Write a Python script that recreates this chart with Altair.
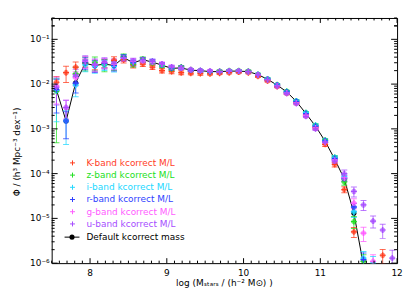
import altair as alt
import pandas as pd

# ---------------- data ----------------
log_mass = [7.5625, 7.6875, 7.8125, 7.9375, 8.0625, 8.1875, 8.3125, 8.4375, 8.5625,
            8.6875, 8.8125, 8.9375, 9.0625, 9.1875, 9.3125, 9.4375, 9.5625, 9.6875,
            9.8125, 9.9375, 10.0625, 10.1875, 10.3125, 10.4375, 10.5625, 10.6875,
            10.8125, 10.9375, 11.0625, 11.1875, 11.3125, 11.4375, 11.5625, 11.6875,
            11.8125, 11.9375]

phi_default = [7.4e-3, 1.5e-3, 1.07e-2, 2.9e-2, 2.6e-2, 2.8e-2, 2.6e-2, 3.9e-2, 3.0e-2,
               3.5e-2, 3.1e-2, 2.65e-2, 2.25e-2, 2.3e-2, 2.05e-2, 2.0e-2, 1.9e-2, 1.9e-2,
               1.95e-2, 1.95e-2, 1.9e-2, 1.63e-2, 1.28e-2, 9.5e-3, 6.7e-3, 4.1e-3,
               2.2e-3, 1.15e-3, 5.3e-4, 2.1e-4, 7.6e-5, 1.3e-5, 9e-7, None, None, None]

phi_K = [1.1e-2, 1.8e-2, 2.4e-2, 3.0e-2, 2.6e-2, 2.9e-2, 3.4e-2, 3.5e-2, 2.7e-2,
         2.8e-2, 2.4e-2, 2.0e-2, 1.9e-2, 1.8e-2, 1.75e-2, 1.72e-2, 1.7e-2, 1.75e-2,
         1.8e-2, 1.85e-2, 1.8e-2, 1.5e-2, 1.18e-2, 8.8e-3, 6.2e-3, 3.8e-3,
         2.0e-3, 1.05e-3, 4.5e-4, 1.6e-4, 4.4e-5, 5e-6, None, None, 1.5e-6, None]
err_K = [0.35, 0.4, 0.3, 0.2, 0.2, 0.2, 0.2, 0.15, 0.15, 0.12, 0.12, 0.12, 0.1, 0.1,
         0.08, 0.08, 0.06, 0.06, 0.06, 0.06, 0.06, 0.06, 0.06, 0.06, 0.06, 0.06, 0.06,
         0.08, 0.1, 0.12, 0.15, 0.25, None, None, 0.35, None]

phi_z = [7.0e-3, None, 1.7e-2, 3.0e-2, 3.0e-2, 2.7e-2, 2.7e-2, 4.1e-2, 2.8e-2,
         3.6e-2, 3.0e-2, 2.6e-2, 2.2e-2, 2.4e-2, 2.1e-2, 2.0e-2, 1.9e-2, 1.95e-2,
         2.0e-2, 2.0e-2, 1.95e-2, 1.65e-2, 1.3e-2, 9.7e-3, 6.9e-3, 4.2e-3,
         2.3e-3, 1.2e-3, 5.6e-4, 2.3e-4, 6.5e-5, 8.5e-6, 1.1e-6, None, None, None]
err_z = [0.93, None, 0.4, 0.35, 0.35, 0.3, 0.25, 0.15, 0.15, 0.12, 0.12, 0.1, 0.1, 0.08,
         0.06, 0.06, 0.06, 0.06, 0.06, 0.06, 0.06, 0.06, 0.06, 0.06, 0.06, 0.06, 0.06,
         0.08, 0.08, 0.1, 0.15, 0.3, 0.4, None, None, None]

phi_i = [7.2e-3, 1.5e-3, 9.5e-3, 2.7e-2, 2.5e-2, 2.7e-2, 2.5e-2, 3.9e-2, 3.0e-2,
         3.4e-2, 3.1e-2, 2.7e-2, 2.3e-2, 2.3e-2, 2.05e-2, 2.0e-2, 1.9e-2, 1.9e-2,
         1.95e-2, 1.95e-2, 1.9e-2, 1.64e-2, 1.3e-2, 9.6e-3, 6.8e-3, 4.2e-3,
         2.3e-3, 1.2e-3, 5.5e-4, 2.3e-4, 8.5e-5, 1.4e-5, 1.3e-6, 1.0e-6, None, None]
err_i = [0.8, 0.7, 0.45, 0.3, 0.3, 0.25, 0.25, 0.15, 0.15, 0.12, 0.12, 0.1, 0.1, 0.08,
         0.06, 0.06, 0.06, 0.06, 0.06, 0.06, 0.06, 0.06, 0.06, 0.06, 0.06, 0.06, 0.06,
         0.08, 0.08, 0.1, 0.15, 0.25, 0.4, 0.4, None, None]

phi_r = [7.5e-3, 1.5e-3, 1.05e-2, 3.0e-2, 2.6e-2, 2.9e-2, 2.6e-2, 4.0e-2, 3.0e-2,
         3.5e-2, 3.2e-2, 2.75e-2, 2.3e-2, 2.35e-2, 2.05e-2, 2.0e-2, 1.9e-2, 1.9e-2,
         1.95e-2, 1.95e-2, 1.9e-2, 1.63e-2, 1.28e-2, 9.5e-3, 6.7e-3, 4.1e-3,
         2.2e-3, 1.15e-3, 5.4e-4, 2.2e-4, 7.8e-5, 1.8e-5, 1.2e-6, None, None, None]
err_r = [0.7, 0.6, 0.4, 0.3, 0.3, 0.25, 0.25, 0.15, 0.15, 0.12, 0.12, 0.1, 0.1, 0.08,
         0.06, 0.06, 0.06, 0.06, 0.06, 0.06, 0.06, 0.06, 0.06, 0.06, 0.06, 0.06, 0.06,
         0.08, 0.08, 0.1, 0.15, 0.2, 0.4, None, None, None]

phi_g = [9.0e-3, 3.0e-3, 1.4e-2, 3.2e-2, 2.7e-2, 3.0e-2, 2.8e-2, 3.8e-2, 3.2e-2,
         3.3e-2, 3.1e-2, 2.8e-2, 2.4e-2, 2.3e-2, 2.1e-2, 2.0e-2, 1.95e-2, 1.9e-2,
         1.95e-2, 1.95e-2, 1.9e-2, 1.62e-2, 1.25e-2, 9.2e-3, 6.3e-3, 3.8e-3,
         2.0e-3, 1.05e-3, 5.0e-4, 2.0e-4, 8.0e-5, 2.2e-5, 4.7e-6, 1.1e-6, None, None]
err_g = [0.6, 0.45, 0.35, 0.3, 0.3, 0.25, 0.25, 0.15, 0.15, 0.12, 0.12, 0.1, 0.1, 0.08,
         0.06, 0.06, 0.06, 0.06, 0.06, 0.06, 0.06, 0.06, 0.06, 0.06, 0.06, 0.06, 0.06,
         0.08, 0.08, 0.1, 0.15, 0.25, 0.35, 0.4, None, None]

phi_u = [8.5e-3, 3.0e-3, 1.6e-2, 3.3e-2, 2.8e-2, 3.1e-2, 2.9e-2, 3.8e-2, 3.3e-2,
         3.5e-2, 3.2e-2, 2.8e-2, 2.4e-2, 2.3e-2, 2.1e-2, 2.0e-2, 1.95e-2, 1.9e-2,
         1.95e-2, 1.95e-2, 1.9e-2, 1.6e-2, 1.25e-2, 9.0e-3, 6.2e-3, 3.7e-3,
         1.9e-3, 1.0e-3, 5.0e-4, 1.9e-4, 1.0e-4, 4.0e-5, 2.0e-5, 8.7e-6, 5.5e-6, 1.3e-6]
err_u = [0.6, 0.45, 0.35, 0.3, 0.3, 0.25, 0.25, 0.15, 0.15, 0.12, 0.12, 0.1, 0.1, 0.08,
         0.06, 0.06, 0.06, 0.06, 0.06, 0.06, 0.06, 0.06, 0.06, 0.06, 0.06, 0.06, 0.06,
         0.08, 0.1, 0.12, 0.2, 0.25, 0.25, 0.3, 0.35, 0.5]

bands = ["K", "z", "i", "r", "g", "u"]
band_colors = ["#ff3d1f", "#22e022", "#22d8ff", "#2f3fff", "#ff5cff", "#a64dff"]
legend_labels = ["K-band kcorrect M/L", "z-band kcorrect M/L", "i-band kcorrect M/L",
                 "r-band kcorrect M/L", "g-band kcorrect M/L", "u-band kcorrect M/L"]
default_label = "Default kcorrect mass"

x_major = [8, 9, 10, 11, 12]
x_major_labels = ["8", "9", "10", "11", "12"]
y_major = [1e-6, 1e-5, 1e-4, 1e-3, 1e-2, 1e-1]
y_major_labels = ["10\u207b\u2076", "10\u207b\u2075", "10\u207b\u2074",
                  "10\u207b\u00b3", "10\u207b\u00b2", "10\u207b\u00b9"]
x_title = "log (M\u209b\u209c\u2090\u1d63\u209b / (h\u207b\u00b2 M\u2299) )"
y_title = "\u03a6 / (h\u00b3 Mpc\u207b\u00b3 dex\u207b\u00b9)"

# ---------------- tables ----------------
rows = []
for b, phis, errs in zip(bands, [phi_K, phi_z, phi_i, phi_r, phi_g, phi_u],
                         [err_K, err_z, err_i, err_r, err_g, err_u]):
    for m, p, e in zip(log_mass, phis, errs):
        if p is None:
            continue
        rows.append(dict(band=b, m=m, phi=p, lo=max(p * (1 - e), 1e-8), hi=p * (1 + e)))
df = pd.DataFrame(rows)
df_def = pd.DataFrame({"m": log_mass, "phi": phi_default}).dropna()

x_minor = [round(7.5 + 0.1 * k, 2) for k in range(46)]
x_minor = [v for v in x_minor if abs(v - round(v)) > 1e-6]
y_minor = [mm * 10.0 ** e for e in range(-6, 0) for mm in range(2, 10)] + [0.2, 0.3]
y_minor = [v for v in y_minor if v <= 0.3]

W, H = 348, 247
FONT = "DejaVu Sans"

xs = alt.Scale(domain=[7.5, 12], nice=False, zero=False)
ys = alt.Scale(type="log", domain=[1e-6, 0.3], nice=False)
cs = alt.Scale(domain=bands, range=band_colors)

X = lambda f: alt.X(f, scale=xs, axis=None)
Y = lambda f: alt.Y(f, scale=ys, axis=None)
C = alt.Color("band:N", scale=cs, legend=None)

# black default line + points
line = alt.Chart(df_def).mark_line(color="black", strokeWidth=1, clip=True).encode(
    x=X("m:Q"), y=Y("phi:Q"))
dots = alt.Chart(df_def).mark_circle(color="black", size=26, opacity=1, clip=True).encode(
    x=X("m:Q"), y=Y("phi:Q"))

base = alt.Chart(df)
ebar = base.mark_rule(strokeWidth=1, opacity=0.75, clip=True).encode(
    x=X("m:Q"), y=Y("lo:Q"), y2="hi:Q", color=C)
cap_lo = base.mark_tick(orient="horizontal", size=6, thickness=1, opacity=0.75, clip=True).encode(
    x=X("m:Q"), y=Y("lo:Q"), color=C)
cap_hi = base.mark_tick(orient="horizontal", size=6, thickness=1, opacity=0.75, clip=True).encode(
    x=X("m:Q"), y=Y("hi:Q"), color=C)
blob = base.mark_circle(size=28, opacity=0.6, clip=True).encode(
    x=X("m:Q"), y=Y("phi:Q"), color=C)
PLUS = "M-1,0L1,0M0,-1L0,1"
plus = base.mark_point(shape=PLUS, size=36, filled=False, strokeWidth=1.2, opacity=1,
                       clip=True).encode(x=X("m:Q"), y=Y("phi:Q"), color=C)

# inward ticks on all four sides
def xtick(vals, y0, y1):
    return alt.Chart(pd.DataFrame({"v": vals})).mark_rule(color="black", strokeWidth=1).encode(
        x=X("v:Q"), y=alt.value(y0), y2=alt.value(y1))

def ytick(vals, x0, x1):
    return alt.Chart(pd.DataFrame({"v": vals})).mark_rule(color="black", strokeWidth=1).encode(
        y=Y("v:Q"), x=alt.value(x0), x2=alt.value(x1))

ticks = [
    xtick(x_major, H, H - 5), xtick(x_minor, H, H - 2.5),
    xtick(x_major, 0, 5), xtick(x_minor, 0, 2.5),
    ytick(y_major, 0, 6), ytick(y_minor, 0, 3),
    ytick(y_major, W, W - 6), ytick(y_minor, W, W - 3),
]

# tick labels and axis titles as text
xlab = alt.Chart(pd.DataFrame({"v": x_major, "t": x_major_labels})).mark_text(
    align="center", baseline="middle", font=FONT, fontSize=9, color="black").encode(
    x=X("v:Q"), y=alt.value(H + 10), text="t:N")
ylab = alt.Chart(pd.DataFrame({"v": y_major, "t": y_major_labels})).mark_text(
    align="right", baseline="middle", font=FONT, fontSize=9, color="black").encode(
    y=Y("v:Q"), x=alt.value(-2), text="t:N")
xtit = alt.Chart(pd.DataFrame({"t": [x_title]})).mark_text(
    align="center", baseline="middle", font=FONT, fontSize=9, color="black").encode(
    x=alt.value(174), y=alt.value(H + 20), text="t:N")
ytit = alt.Chart(pd.DataFrame({"t": [y_title]})).mark_text(
    align="center", baseline="middle", font=FONT, fontSize=9, color="black", angle=270).encode(
    x=alt.value(-35), y=alt.value(135), text="t:N")

# manual legend
leg_y0, leg_dy = 146, 12.3
leg_df = pd.DataFrame({
    "label": legend_labels,
    "col": band_colors,
    "ypix": [leg_y0 + leg_dy * k for k in range(len(bands))],
})
leg_text = alt.Chart(leg_df).mark_text(align="left", baseline="middle", font=FONT, fontSize=9).encode(
    x=alt.value(35), y=alt.Y("ypix:Q", scale=None, axis=None),
    text="label:N", color=alt.Color("col:N", scale=None, legend=None))
leg_plus = alt.Chart(leg_df).mark_point(shape=PLUS, size=25, filled=False, strokeWidth=1,
                                        opacity=1).encode(
    x=alt.value(21), y=alt.Y("ypix:Q", scale=None, axis=None),
    color=alt.Color("col:N", scale=None, legend=None))

def_y = leg_y0 + leg_dy * len(bands) + 1
def_df = pd.DataFrame({"label": [default_label], "ypix": [def_y]})
def_text = alt.Chart(def_df).mark_text(align="left", baseline="middle", font=FONT, fontSize=9,
                                       color="black").encode(
    x=alt.value(35), y=alt.Y("ypix:Q", scale=None, axis=None), text="label:N")
def_line = alt.Chart(def_df).mark_rule(color="black", strokeWidth=1).encode(
    x=alt.value(13), x2=alt.value(28), y=alt.Y("ypix:Q", scale=None, axis=None))
def_dot = alt.Chart(def_df).mark_circle(color="black", size=26, opacity=1).encode(
    x=alt.value(20.5), y=alt.Y("ypix:Q", scale=None, axis=None))

chart = alt.layer(
    line, dots, ebar, cap_lo, cap_hi, blob, plus, *ticks,
    xlab, ylab, xtit, ytit,
    leg_plus, leg_text, def_line, def_dot, def_text,
).properties(
    width=W, height=H,
    padding={"left": 44, "top": 9, "right": 10, "bottom": 26},
    autosize=alt.AutoSizeParams(type="none"),
    background="white",
).configure_view(stroke="black", strokeWidth=1)

chart.save("out.html", embed_options={"renderer": "svg", "actions": False})
